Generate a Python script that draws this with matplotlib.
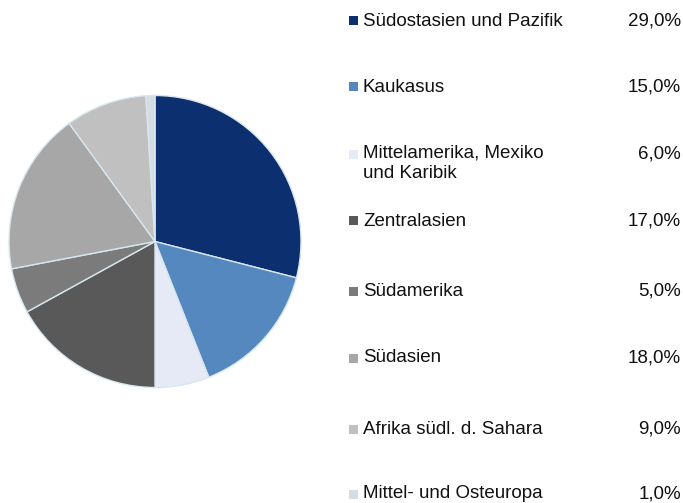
import matplotlib.pyplot as plt
from matplotlib.patches import Rectangle

# Regionale Verteilung (Anteile in %)
labels = ["Südostasien und Pazifik", "Kaukasus", "Mittelamerika, Mexiko\nund Karibik",
          "Zentralasien", "Südamerika", "Südasien", "Afrika südl. d. Sahara",
          "Mittel- und Osteuropa"]
shares = [29.0, 15.0, 6.0, 17.0, 5.0, 18.0, 9.0, 1.0]
colors = ["#0b2f6f", "#5588be", "#e5eaf6", "#595959", "#7b7b7b",
          "#a7a7a7", "#c0c0c0", "#d6dde2"]

plt.rcParams['font.family'] = ['Liberation Sans', 'DejaVu Sans']

W, H = 683, 503
fig = plt.figure(figsize=(W / 100, H / 100), dpi=100)

# pie: centre ~ (155, 241), radius ~146 px
cx, cy, r = 155, 241.5, 146
ax = fig.add_axes([(cx - r) / W, 1 - (cy + r) / H, 2 * r / W, 2 * r / H])
ax.pie(shares, colors=colors, startangle=90, counterclock=False,
       wedgeprops=dict(edgecolor="#d8e6ee", linewidth=1.0))
ax.set_xlim(-1, 1)
ax.set_ylim(-1, 1)
ax.set_aspect('auto')
ax.axis('off')

fs = 13.5
# legend rows (y in px of first text line)
row_y = [21, 87, 154, 221, 291, 358, 429, 494]
for lab, val, col, y in zip(labels, shares, colors, row_y):
    yf = 1 - y / H
    fig.patches.append(Rectangle((349 / W, yf - 4.5 / H), 9 / W, 9 / H,
                                 transform=fig.transFigure, facecolor=col,
                                 edgecolor='none'))
    if '\n' in lab:
        fig.text(363 / W, 1 - (y - 9) / H, lab, fontsize=fs, va='top',
                 ha='left', color='#111111', linespacing=1.25)
    else:
        fig.text(363 / W, yf, lab, fontsize=fs, va='center', ha='left',
                 color='#111111')
    fig.text(681 / W, yf, f"{val:.1f}%".replace('.', ','), fontsize=fs,
             va='center', ha='right', color='#111111')

fig.savefig("out.png", dpi=100)
